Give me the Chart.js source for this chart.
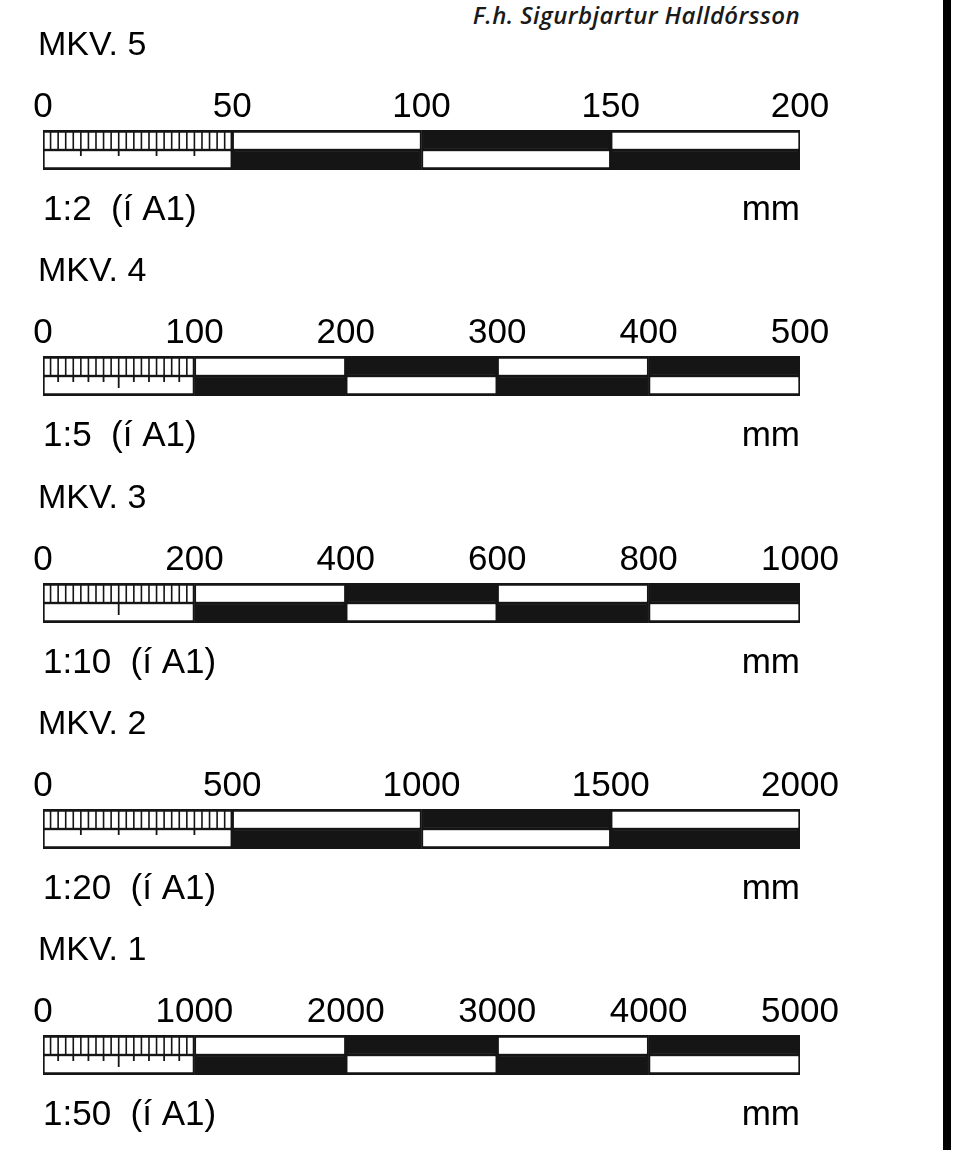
<!DOCTYPE html>
<html lang="is">
<head>
<meta charset="utf-8">
<title>Mælikvarðar</title>
<script src="https://cdn.jsdelivr.net/npm/chart.js@4/dist/chart.umd.min.js"></script>
<style>
  html, body { margin: 0; padding: 0; background: #fff; }
  #page { position: relative; width: 959px; height: 1155px; overflow: hidden; }
  .scale-canvas { position: absolute; left: 0; }
  #credit {
    position: absolute; right: 159px; top: -2px;
    font-family: "Open Sans", sans-serif; font-style: italic; font-weight: 600;
    font-size: 24px; color: #1a1a1a; letter-spacing: 0.4px;
  }
  #frame { position: absolute; left: 943px; top: 0; width: 8px; height: 1150px; background: #000; }
</style>
</head>
<body>
<div id="page">
  <div id="credit">F.h. Sigurbjartur Halldórsson</div>
  <div id="frame"></div>
</div>
<script>
// ============================================
// Scale bar data
// ============================================
const scaleNames = ['MKV. 5', 'MKV. 4', 'MKV. 3', 'MKV. 2', 'MKV. 1'];
const scaleRatios = ['1:2  (í A1)', '1:5  (í A1)', '1:10  (í A1)', '1:20  (í A1)', '1:50  (í A1)'];
const unitLabel = 'mm';
const rowLabels = ['top', 'bottom'];

// main divisions (tick labels above each bar)
const divisions5 = [0, 50, 100, 150, 200];
const divisions4 = [0, 100, 200, 300, 400, 500];
const divisions3 = [0, 200, 400, 600, 800, 1000];
const divisions2 = [0, 500, 1000, 1500, 2000];
const divisions1 = [0, 1000, 2000, 3000, 4000, 5000];

// fine graduation of the first division (top half)
const combStep = [2, 5, 10, 20, 50];

// ticks hanging down in the lower half of the first division
const shortTicks5 = [10, 20, 30, 40];
const shortTicks4 = [10, 20, 30, 40, 60, 70, 80, 90];
const shortTicks3 = [];
const shortTicks2 = [100, 200, 300, 400];
const shortTicks1 = [100, 200, 300, 400, 600, 700, 800, 900];
const longTicks5 = [];
const longTicks4 = [50];
const longTicks3 = [100];
const longTicks2 = [];
const longTicks1 = [500];

const allDivisions = [divisions5, divisions4, divisions3, divisions2, divisions1];
const allShort = [shortTicks5, shortTicks4, shortTicks3, shortTicks2, shortTicks1];
const allLong = [longTicks5, longTicks4, longTicks3, longTicks2, longTicks1];

const INK = '#151515';
const PAPER = '#ffffff';

document.addEventListener('DOMContentLoaded', function() {
    const page = document.getElementById('page');
    for (let k = 0; k < scaleNames.length; k++) {
        const canvas = document.createElement('canvas');
        canvas.className = 'scale-canvas';
        canvas.width = 959;
        canvas.height = 250;
        canvas.style.top = Math.round(k * 226.25) + 'px';
        page.appendChild(canvas);
        renderScale(canvas, k);
    }
});

// all segments of both rows in one list, with fill colour
function buildSegments(div) {
    const segs = [], fills = [];
    for (let i = 0; i < div.length - 1; i++) {
        segs.push({ x: [div[i], div[i + 1]], y: 'top' });
        fills.push(i === 0 || i % 2 === 1 ? PAPER : INK);
    }
    for (let i = 0; i < div.length - 1; i++) {
        segs.push({ x: [div[i], div[i + 1]], y: 'bottom' });
        fills.push(i % 2 === 0 ? PAPER : INK);
    }
    return { segs, fills };
}

// vertical line pieces, separated by gaps
function tickSegments(values, y0, y1) {
    const pts = [];
    values.forEach(v => {
        pts.push({ x: v, y: y0 }, { x: v, y: y1 }, { x: null, y: null });
    });
    return pts;
}

function renderScale(canvas, k) {
    const div = allDivisions[k];
    const last = div[div.length - 1];
    const bar = buildSegments(div);

    const comb = [];
    for (let v = combStep[k]; v < div[1]; v += combStep[k]) comb.push(v);

    const topBorder = { top: 3, left: 2, right: 2, bottom: 1.5 };
    const bottomBorder = { top: 1.5, left: 2, right: 2, bottom: 3 };

    const lineBase = {
        type: 'line',
        xAxisID: 'x',
        yAxisID: 'yl',
        borderColor: INK,
        pointRadius: 0,
        spanGaps: false,
        fill: false,
        order: 0
    };

    const padScale = s => { s.paddingLeft = 43; s.paddingRight = 0; };

    new Chart(canvas, {
        data: {
            labels: rowLabels,
            datasets: [
                Object.assign({}, lineBase, { data: tickSegments(comb, 0, 1), borderWidth: 1.6 }),
                Object.assign({}, lineBase, { data: tickSegments(allShort[k], 1, 1.3), borderWidth: 1.8 }),
                Object.assign({}, lineBase, { data: tickSegments(allLong[k], 1, 1.6), borderWidth: 1.8 }),
                {
                    type: 'bar',
                    indexAxis: 'y',
                    xAxisID: 'x',
                    yAxisID: 'y',
                    data: bar.segs,
                    categoryPercentage: 1,
                    barPercentage: 1,
                    backgroundColor: bar.fills,
                    borderColor: INK,
                    borderWidth: ctx => ctx.raw && ctx.raw.y === 'top' ? topBorder : bottomBorder,
                    borderSkipped: false,
                    order: 2
                }
            ]
        },
        options: {
            responsive: false,
            animation: false,
            events: [],
            layout: { padding: { left: 38, right: 159, top: 0, bottom: 0 } },
            plugins: {
                legend: { display: false },
                tooltip: { enabled: false },
                title: {
                    display: true,
                    text: scaleNames[k],
                    align: 'start',
                    color: '#000',
                    font: { family: 'Liberation Sans', size: 34, weight: 'normal', lineHeight: '40px' },
                    padding: { top: 26, bottom: 18 }
                }
            },
            scales: {
                y: { type: 'category', labels: rowLabels, offset: true, display: false },
                yl: { type: 'linear', min: 0, max: 2, reverse: true, display: false },
                x: {
                    type: 'linear',
                    position: 'top',
                    min: 0,
                    max: last,
                    grid: { display: false, drawTicks: false },
                    border: { display: false },
                    afterBuildTicks: s => { s.ticks = div.map(v => ({ value: v })); },
                    afterFit: padScale,
                    ticks: {
                        padding: 2,
                        color: '#000',
                        autoSkip: false,
                        maxRotation: 0,
                        font: { family: 'Liberation Sans', size: 35, lineHeight: '42px' },
                        callback: v => String(v)
                    }
                },
                xb: {
                    type: 'linear',
                    position: 'bottom',
                    min: 0,
                    max: last,
                    grid: { display: false, drawTicks: false },
                    border: { display: false },
                    afterBuildTicks: s => { s.ticks = [{ value: 0 }, { value: last }]; },
                    afterFit: padScale,
                    ticks: {
                        padding: 19,
                        align: 'inner',
                        color: '#000',
                        autoSkip: false,
                        maxRotation: 0,
                        font: { family: 'Liberation Sans', size: 35, lineHeight: '42px' },
                        callback: (v, i) => i === 0 ? scaleRatios[k] : unitLabel
                    }
                }
            }
        }
    });
}
</script>
</body>
</html>
